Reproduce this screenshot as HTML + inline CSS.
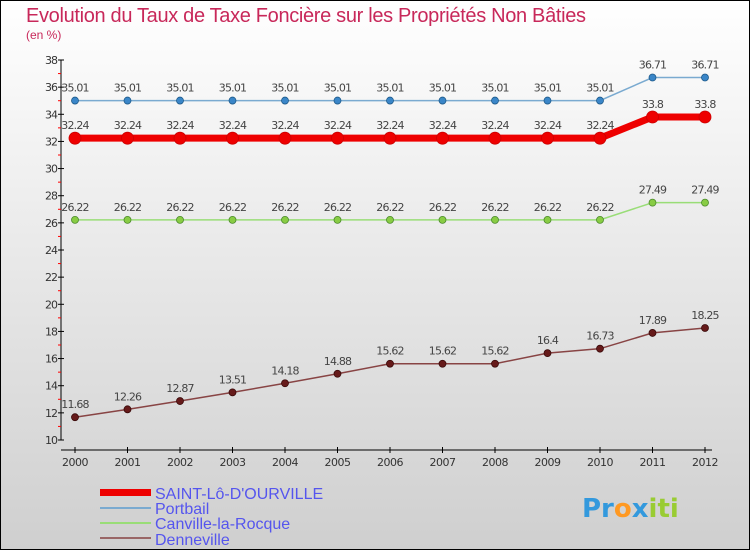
<!DOCTYPE html>
<html><head><meta charset="utf-8"><style>
body{margin:0}
svg{display:block;font-family:"DejaVu Sans","Liberation Sans",sans-serif}
.ls{font-family:"Liberation Sans",sans-serif}
</style></head><body>
<svg width="750" height="550" viewBox="0 0 750 550">
<defs><linearGradient id="bg" x1="0" y1="0" x2="0" y2="1"><stop offset="0" stop-color="#ffffff"/><stop offset="1" stop-color="#cfcfcf"/></linearGradient></defs>
<rect x="0.5" y="0.5" width="749" height="549" fill="url(#bg)" stroke="#000"/>
<text class="ls" x="26" y="22" font-size="20" fill="#c8285a" textLength="560">Evolution du Taux de Taxe Foncière sur les Propriétés Non Bâties</text>
<text class="ls" x="26" y="39" font-size="12" fill="#c8285a">(en %)</text>
<g id="axes"></g>
<g id="series"></g>
<g>
<rect x="100" y="489" width="51" height="7" fill="#ee0000"/>
<text class="ls" x="155" y="499" font-size="16" fill="#5555ee">SAINT-Lô-D'OURVILLE</text>
<rect x="100" y="507" width="51" height="2" fill="#7aaad0"/>
<text class="ls" x="155" y="514" font-size="16" fill="#5555ee">Portbail</text>
<rect x="100" y="522" width="51" height="2" fill="#99dd77"/>
<text class="ls" x="155" y="529" font-size="16" fill="#5555ee">Canville-la-Rocque</text>
<rect x="100" y="537" width="51" height="2" fill="#996666"/>
<text class="ls" x="155" y="545" font-size="16" fill="#5555ee">Denneville</text>
</g>
<text x="582" y="517" font-size="26" font-weight="bold"><tspan fill="#3399dd">Pr</tspan><tspan fill="#ff9922">o</tspan><tspan fill="#3399dd">x</tspan><tspan fill="#99cc33">iti</tspan></text>
</svg>
<script>
const years=[2000,2001,2002,2003,2004,2005,2006,2007,2008,2009,2010,2011,2012];
const saintLo=[32.24,32.24,32.24,32.24,32.24,32.24,32.24,32.24,32.24,32.24,32.24,33.8,33.8];
const portbail=[35.01,35.01,35.01,35.01,35.01,35.01,35.01,35.01,35.01,35.01,35.01,36.71,36.71];
const canville=[26.22,26.22,26.22,26.22,26.22,26.22,26.22,26.22,26.22,26.22,26.22,27.49,27.49];
const denneville=[11.68,12.26,12.87,13.51,14.18,14.88,15.62,15.62,15.62,16.4,16.73,17.89,18.25];
const yTicks=[10,12,14,16,18,20,22,24,26,28,30,32,34,36,38];
const NS="http://www.w3.org/2000/svg";
const xS=i=>75+i*52.5;
const yS=v=>440-(v-10)*(380/28);
function mk(tag,attrs,parent){const e=document.createElementNS(NS,tag);for(const k in attrs)e.setAttribute(k,attrs[k]);parent.appendChild(e);return e;}
const ax=document.getElementById('axes');
let l=mk('line',{x1:61,y1:60,x2:61,y2:440,stroke:'#000'},ax);


l=mk('line',{x1:61,y1:450,x2:712,y2:450,stroke:'#000'},ax);


yTicks.forEach(v=>{
 const y=yS(v);
 mk('line',{x1:58,y1:y,x2:64,y2:y,stroke:'#000'},ax);
 if(v<38){mk('line',{x1:58,y1:yS(v+1),x2:61,y2:yS(v+1),stroke:'#f00'},ax);}
 const t=mk('text',{x:57,y:y+4,'font-size':11,'text-anchor':'end',fill:'#333','letter-spacing':'-1'},ax);
 t.textContent=v;
 
 
});
years.forEach((yr,i)=>{
 const x=xS(i);
 mk('line',{x1:x,y1:447,x2:x,y2:453,stroke:'#000'},ax);
 const t=mk('text',{x:x,y:466,'font-size':11,'text-anchor':'middle',fill:'#333','letter-spacing':'-0.5'},ax);
 t.textContent=yr;
 
 
});
const sg=document.getElementById('series');
function draw(vals,name,color,width,dot,dotColor,r){
 const g=mk('g',{},sg);
 
 
 const p=mk('polyline',{points:vals.map((v,i)=>xS(i)+','+yS(v)).join(' '),fill:'none',stroke:color,'stroke-width':width},g);
 
 
 vals.forEach((v,i)=>{
  const c=mk('circle',{cx:xS(i),cy:yS(v),r:r,fill:dotColor,stroke:dot,'stroke-width':0.8},g);
  
  
  const t=mk('text',{x:xS(i),y:yS(v)-9,'font-size':11,'text-anchor':'middle',fill:'#444','letter-spacing':'-0.8'},g);
  t.textContent=v;
  
  
 });
}
draw(portbail,'portbail','#7aaad0',1.5,'#1e5a8a','#3a86c8',3.5);
draw(canville,'canville','#99dd77',1.5,'#4a8a2a','#88cc44',3.5);
draw(denneville,'denneville','#884444',1.5,'#3a0a0a','#661a1a',3.5);
draw(saintLo,'saint-lo','#ee0000',7,'#cc0000','#ee0000',6);
</script>
</body></html>
